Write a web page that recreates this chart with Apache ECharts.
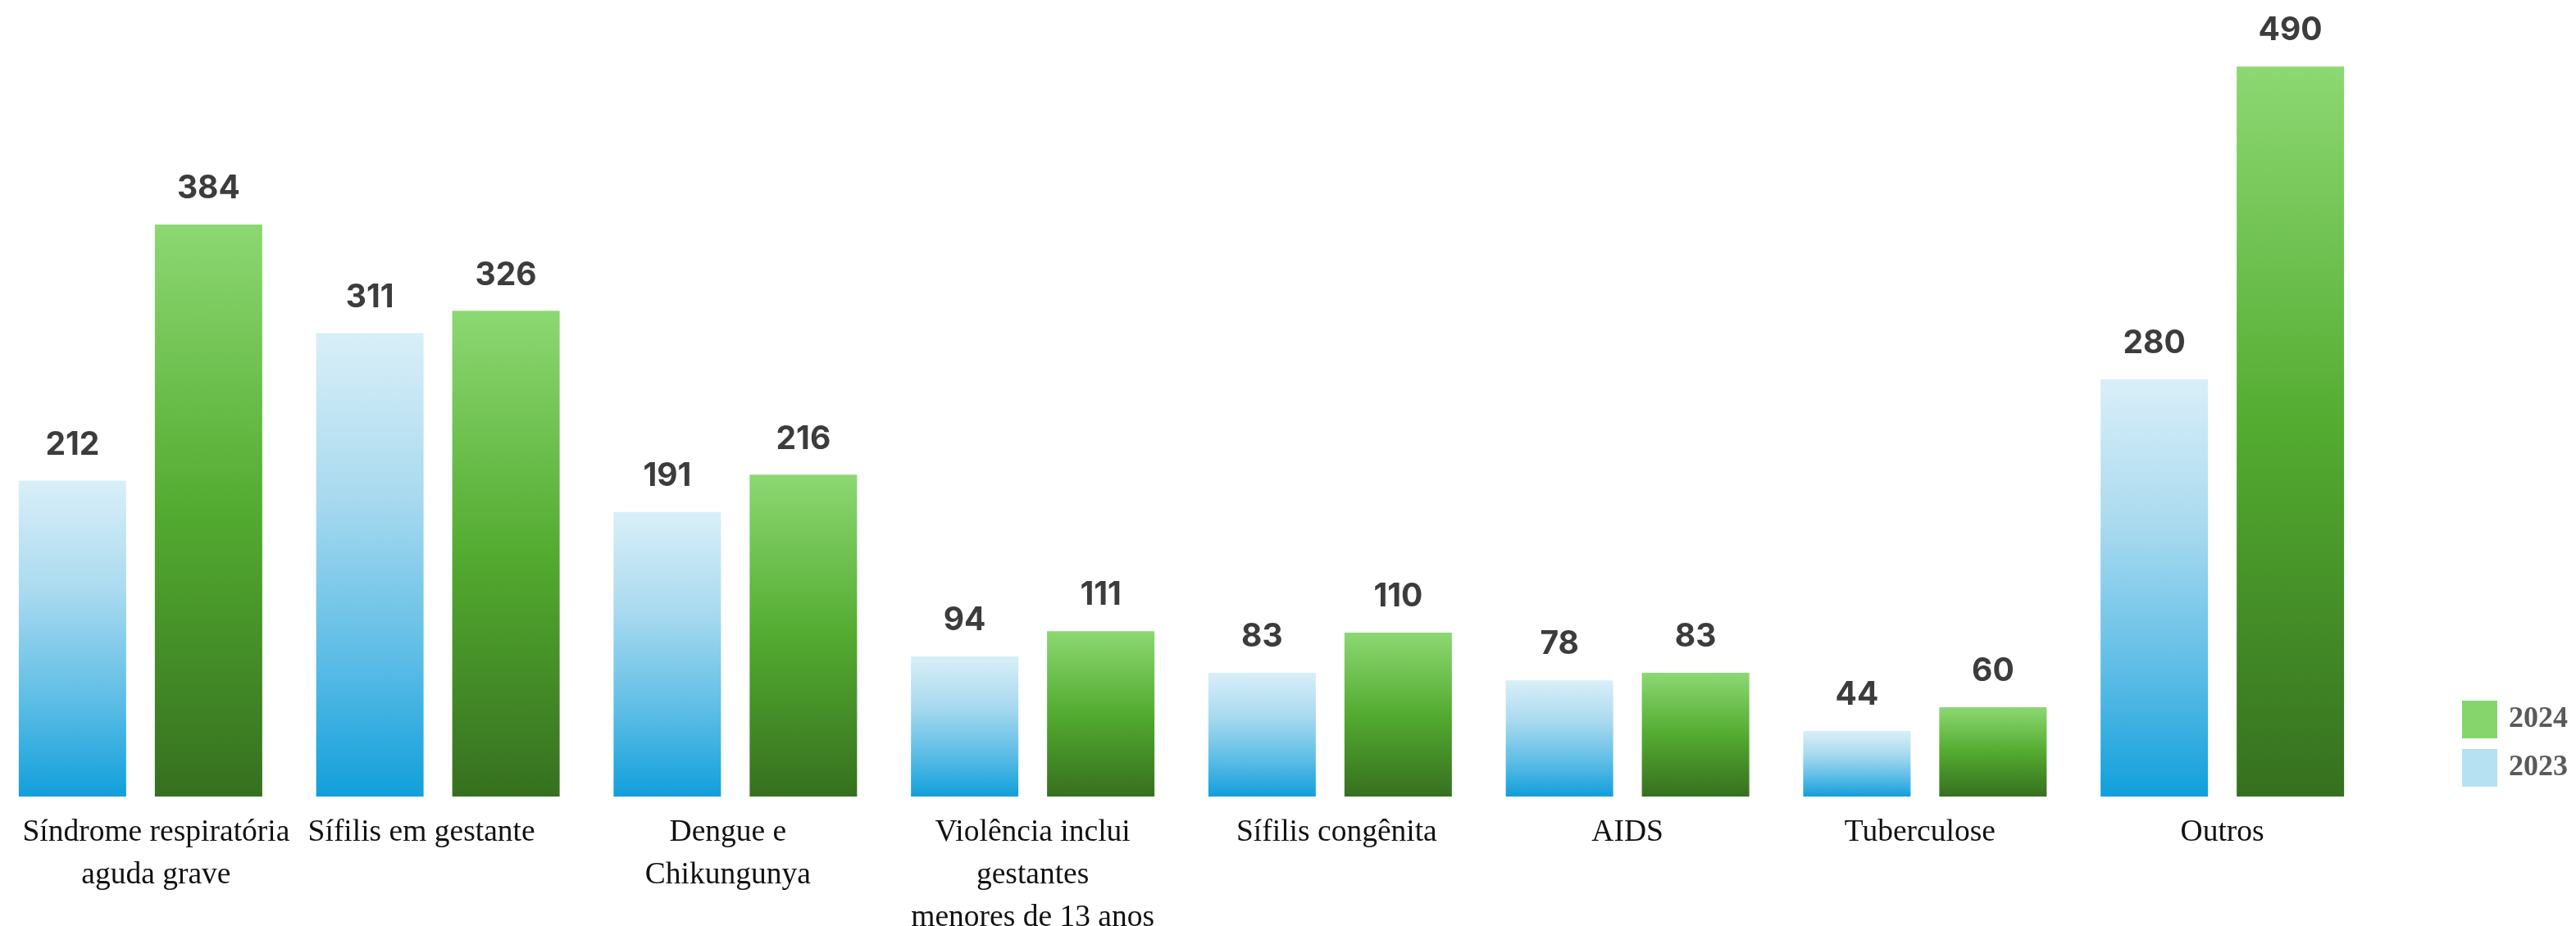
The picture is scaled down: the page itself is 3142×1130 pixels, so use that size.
<!DOCTYPE html>
<html>
<head>
<meta charset="utf-8">
<script src="https://cdn.jsdelivr.net/npm/echarts@6/dist/echarts.min.js"></script>
<style>
html,body{margin:0;padding:0;background:#fff;}
#chart{width:3142px;height:1130px;}
</style>
</head>
<body>
<div id="chart"></div>
<script>
const categories = [
  'Síndrome respiratória\naguda grave',
  'Sífilis em gestante',
  'Dengue e\nChikungunya',
  'Violência inclui\ngestantes\nmenores de 13 anos',
  'Sífilis congênita',
  'AIDS',
  'Tuberculose',
  'Outros'
];
const seriesNames = ['2023', '2024'];
const values2023 = [212, 311, 191, 94, 83, 78, 44, 280];
const values2024 = [384, 326, 216, 111, 110, 83, 60, 490];

// styling (kept separate from data)
const labelShift = [19, -20, -9, 0, 8, 0, -6, 0];

const chart = echarts.init(document.getElementById('chart'));

const xData = categories.map((c, i) => {
  const d = labelShift[i];
  return {
    value: c,
    textStyle: { padding: d >= 0 ? [0, 0, 0, 2 * d] : [0, -2 * d, 0, 0] }
  };
});

const grad2023 = new echarts.graphic.LinearGradient(0, 0, 0, 1, [
  { offset: 0, color: '#d9eff8' },
  { offset: 0.35, color: '#a9daef' },
  { offset: 0.7, color: '#5dbde6' },
  { offset: 1, color: '#119fdb' }
]);
const grad2024 = new echarts.graphic.LinearGradient(0, 0, 0, 1, [
  { offset: 0, color: '#8cd872' },
  { offset: 0.5, color: '#53ab30' },
  { offset: 1, color: '#36701f' }
]);

const valueLabel = {
  show: true,
  position: 'top',
  distance: 24,
  fontFamily: 'Inter',
  fontWeight: 'bold',
  fontSize: 39,
  color: '#3c3c3c'
};

chart.setOption({
  backgroundColor: '#ffffff',
  animation: false,
  grid: { left: -10, right: 250, top: 63, bottom: 158, containLabel: false, outerBoundsMode: 'none' },
  legend: {
    orient: 'vertical',
    left: 2998,
    top: 850,
    itemWidth: 43,
    itemHeight: 46,
    itemGap: 13,
    icon: 'rect',
    data: [
      { name: '2024', itemStyle: { color: '#86d46c' } },
      { name: '2023', itemStyle: { color: '#b6e1f3' } }
    ],
    textStyle: {
      fontFamily: 'Liberation Serif',
      fontWeight: 'bold',
      fontSize: 36,
      color: '#5a5a5a',
      padding: [0, 0, 0, 9]
    }
  },
  xAxis: {
    type: 'category',
    data: xData,
    axisLine: { show: false },
    axisTick: { show: false },
    axisLabel: {
      interval: 0,
      margin: 18,
      fontFamily: 'Liberation Serif',
      fontSize: 37.5,
      lineHeight: 52,
      color: '#111111'
    }
  },
  yAxis: {
    type: 'value',
    min: 0,
    max: 500,
    show: false,
    splitLine: { show: false }
  },
  series: [
    {
      name: seriesNames[0],
      type: 'bar',
      data: values2023,
      barWidth: 131,
      barGap: '26.7%',
      itemStyle: { color: grad2023 },
      label: valueLabel
    },
    {
      name: seriesNames[1],
      type: 'bar',
      data: values2024,
      barWidth: 131,
      barGap: '26.7%',
      itemStyle: { color: grad2024 },
      label: valueLabel
    }
  ]
});
</script>
</body>
</html>
